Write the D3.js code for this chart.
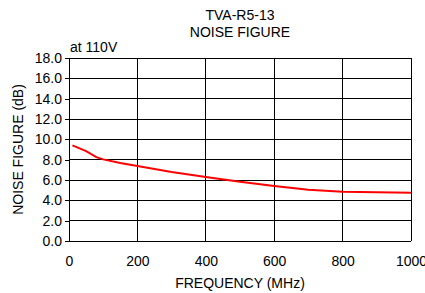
<!DOCTYPE html>
<html lang="en">
<head>
<meta charset="UTF-8">
<script src="https://d3js.org/d3.v7.min.js"></script>
<style>
  body { margin: 0; background: #fff; }
  text { font-family: "Liberation Sans", Arial, sans-serif; fill: #000; }
</style>
</head>
<body>
<script>
// chart data
var freqs = [10, 50, 80, 100, 150, 200, 300, 400, 500, 600, 700, 800, 900, 1000];
var noise = [9.4, 8.85, 8.25, 8.03, 7.68, 7.37, 6.78, 6.29, 5.83, 5.41, 5.04, 4.85, 4.79, 4.75];
var xTicks = [0, 200, 400, 600, 800, 1000];
var yTicks = [0, 2, 4, 6, 8, 10, 12, 14, 16, 18];

var W = 425, H = 293;
var margin = { top: 58, right: 14, bottom: 52, left: 69 },
    width = W - margin.left - margin.right,
    height = H - margin.top - margin.bottom;

var svg = d3.select("body").append("svg")
    .attr("width", W).attr("height", H);

var g = svg.append("g")
    .attr("transform", "translate(" + margin.left + "," + margin.top + ")");

var x = d3.scaleLinear().domain([0, 1000]).range([0, width]);
var y = d3.scaleLinear().domain([0, 18]).range([height, 0]);

// grid lines
g.selectAll(".hgrid").data(yTicks).enter().append("line")
    .attr("x1", 0).attr("x2", width)
    .attr("y1", function (d) { return y(d); }).attr("y2", function (d) { return y(d); })
    .attr("stroke", "#000").attr("stroke-width", 1).attr("shape-rendering", "crispEdges");
g.selectAll(".vgrid").data(xTicks).enter().append("line")
    .attr("y1", 0).attr("y2", height)
    .attr("x1", function (d) { return x(d); }).attr("x2", function (d) { return x(d); })
    .attr("stroke", "#000").attr("stroke-width", 1).attr("shape-rendering", "crispEdges");

// axes
var yAxis = g.append("g")
    .call(d3.axisLeft(y).tickValues(yTicks).tickSize(4).tickPadding(3)
        .tickFormat(d3.format(".1f")));
var xAxis = g.append("g")
    .attr("transform", "translate(0," + height + ")")
    .call(d3.axisBottom(x).tickValues(xTicks).tickSize(0).tickPadding(15)
        .tickFormat(d3.format("d")));
[xAxis, yAxis].forEach(function (a) {
    a.select(".domain").remove();
    a.selectAll("line").attr("stroke", "#000").attr("shape-rendering", "crispEdges");
    a.selectAll("text").style("font-size", "14px")
        .style("font-family", "Liberation Sans, Arial, sans-serif");
});

// line
var line = d3.line()
    .x(function (d, i) { return x(freqs[i]); })
    .y(function (d) { return y(d); });
g.append("path").datum(noise)
    .attr("d", line)
    .attr("fill", "none")
    .attr("stroke", "#ff0000")
    .attr("stroke-width", 2);

// titles
svg.append("text").attr("x", 240).attr("y", 20).attr("text-anchor", "middle")
    .style("font-size", "14px").text("TVA-R5-13");
svg.append("text").attr("x", 240).attr("y", 37).attr("text-anchor", "middle")
    .style("font-size", "14px").text("NOISE FIGURE");
svg.append("text").attr("x", 70).attr("y", 52)
    .style("font-size", "14px").text("at 110V");
svg.append("text").attr("x", 240).attr("y", 288).attr("text-anchor", "middle")
    .style("font-size", "14px").text("FREQUENCY (MHz)");
svg.append("text")
    .attr("transform", "translate(23," + (margin.top + height / 2) + ") rotate(-90)")
    .attr("text-anchor", "middle")
    .style("font-size", "14px").text("NOISE FIGURE (dB)");
</script>
</body>
</html>
